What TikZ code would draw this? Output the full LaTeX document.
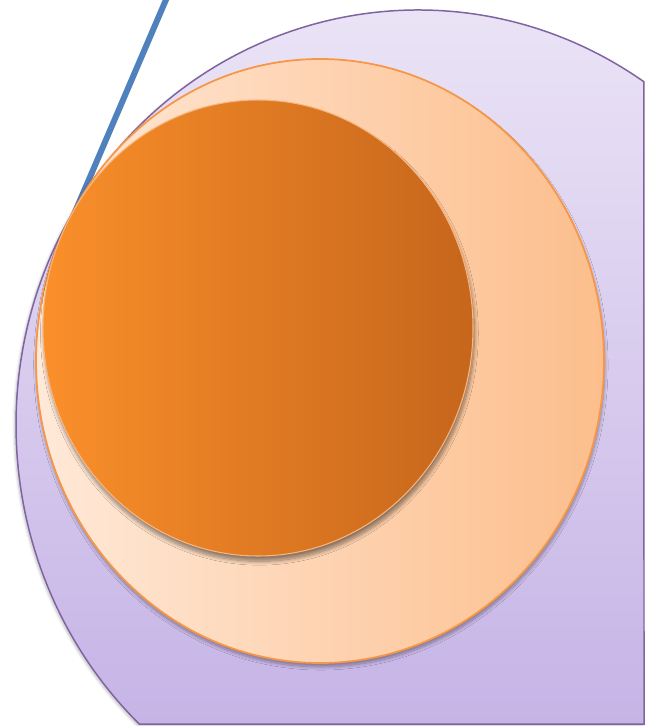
\documentclass[tikz,border=0pt]{standalone}
\usepackage{tikz}
\usetikzlibrary{shadows.blur}

\definecolor{lilacTop}{RGB}{237,231,247}
\definecolor{lilacBottom}{RGB}{198,180,230}
\definecolor{lilacLine}{RGB}{128,100,162}
\definecolor{peachLeft}{RGB}{255,233,216}
\definecolor{peachRight}{RGB}{252,190,140}
\definecolor{peachLine}{RGB}{247,150,70}
\definecolor{coreLeft}{RGB}{250,143,42}
\definecolor{coreMid}{RGB}{236,130,38}
\definecolor{coreRight}{RGB}{198,102,28}
\definecolor{linkBlue}{RGB}{79,129,189}

\begin{document}
\begin{tikzpicture}[
				x=0.02cm, y=-0.02cm,
				outer/.style={draw=lilacLine, line width=0.85pt, top color=lilacTop, bottom color=lilacBottom,
					blur shadow={shadow xshift=-0.8pt, shadow yshift=-1pt, shadow blur radius=1.5pt, shadow blur steps=8, shadow opacity=25}},
				middle/.style={draw=peachLine, line width=1pt, left color=peachLeft, right color=peachRight,
					blur shadow={shadow xshift=0.5pt, shadow yshift=-2.2pt, shadow blur radius=1.8pt, shadow blur steps=8, shadow opacity=35}},
				inner/.style={draw=peachLine!70!white, line width=0.6pt, left color=coreLeft, middle color=coreMid, right color=coreRight,
					blur shadow={shadow xshift=0.8pt, shadow yshift=-3pt, shadow blur radius=2.2pt, shadow blur steps=10, shadow opacity=45}},
				link/.style={draw=linkBlue, line width=3.4pt},
				]
				
				\useasboundingbox (0,0) rectangle (645,726);
				
				%% ── Centres ─────────────────────────────────────────────
				\coordinate (pc) at (418,425);
				\coordinate (mc) at (320,361);
				\coordinate (ic) at (258,328);
				
				%% ── Blue line (behind everything) ───────────────────────
				\coordinate (ltop) at (168,-5);
				\coordinate (lend) at (63,240);
				\draw[link] (ltop) -- (lend);
				
				%% ── Outer lilac shape, cut at right and bottom edge ─────
				\path[outer] (pc) ++(-55.8:402 and 415)
					arc[start angle=-55.8, end angle=-226.1, x radius=402, y radius=415]
					-- (644,724) -- cycle;
				
				%% ── Middle peach ellipse ────────────────────────────────
				\path[middle] (mc) ellipse[x radius=284, y radius=302];
				
				%% ── Inner orange ellipse ────────────────────────────────
				\path[inner] (ic) ellipse[x radius=215, y radius=228];
				
			\end{tikzpicture}
\end{document}
